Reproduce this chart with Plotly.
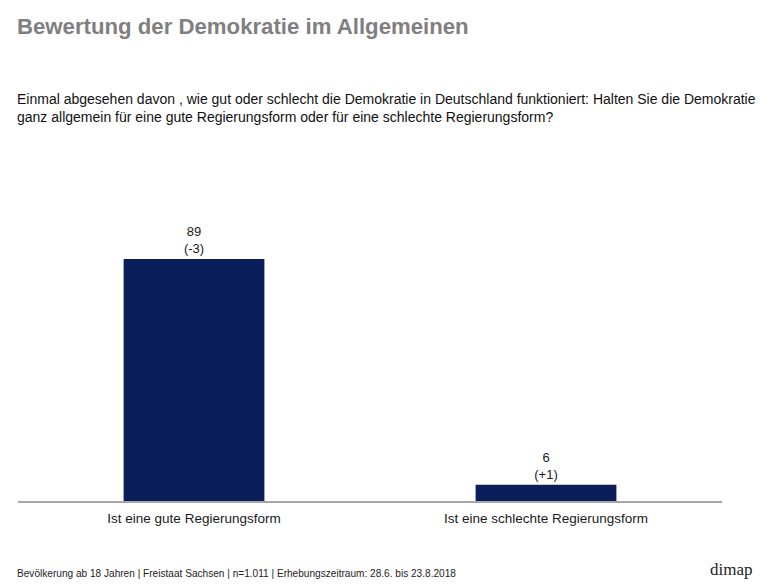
import plotly.graph_objects as go

categories = ["Ist eine gute Regierungsform", "Ist eine schlechte Regierungsform"]
values = [89, 6]
changes = ["(-3)", "(+1)"]

labels = [f"{v}<br>{c}" for v, c in zip(values, changes)]

# page body has an 8px margin; figure sized so it fills the 780x588 window
W, H = 764, 572
L, R, T, B = 10, 50, 221, 79

fig = go.Figure(go.Bar(
    x=categories, y=values, text=labels, textposition="outside",
    marker=dict(color="#0a1f5a", line=dict(width=0)),
    width=0.4, cliponaxis=False,
    textfont=dict(family="Liberation Sans, Arial", size=13, color="#1a1a1a"),
))

fig.update_layout(
    width=W, height=H,
    margin=dict(l=L, r=R, t=T, b=B),
    paper_bgcolor="white", plot_bgcolor="white",
    showlegend=False,
    font=dict(family="Liberation Sans, Arial", color="#1a1a1a"),
    xaxis=dict(showline=True, linecolor="#a6a6a6", linewidth=1.5, ticks="",
               ticklabelstandoff=4,
               tickfont=dict(size=13.5, color="#1a1a1a"), showgrid=False),
    yaxis=dict(range=[0, 100], visible=False, showgrid=False),
)

fig.add_annotation(text="<b>Bewertung der Demokratie im Allgemeinen</b>",
                   xref="paper", yref="paper", x=0, y=1, xanchor="left", yanchor="middle",
                   xshift=-3, yshift=T - 18,
                   showarrow=False, font=dict(size=22.2, color="#7f7f7f"))
fig.add_annotation(text="Einmal abgesehen davon , wie gut oder schlecht die Demokratie in Deutschland funktioniert: Halten Sie die Demokratie<br>ganz allgemein für eine gute Regierungsform oder für eine schlechte Regierungsform?",
                   xref="paper", yref="paper", x=0, y=1, xanchor="left", yanchor="top", align="left",
                   xshift=-3, yshift=T - 81,
                   showarrow=False, font=dict(size=14, color="#111111"))
fig.add_annotation(text="Bevölkerung ab 18 Jahren | Freistaat Sachsen | n=1.011 | Erhebungszeitraum: 28.6. bis 23.8.2018",
                   xref="paper", yref="paper", x=0, y=0, xanchor="left", yanchor="bottom",
                   xshift=-3, yshift=-B - 1,
                   showarrow=False, font=dict(size=10.1, color="#222222"))
fig.add_annotation(text="dimap",
                   xref="paper", yref="paper", x=1, y=0, xanchor="center", yanchor="bottom",
                   xshift=(731 - 8) - (W - R), yshift=-B - 1,
                   showarrow=False, font=dict(family="Liberation Serif, DejaVu Serif", size=17, color="#222222"))

fig.write_html("out.html")
